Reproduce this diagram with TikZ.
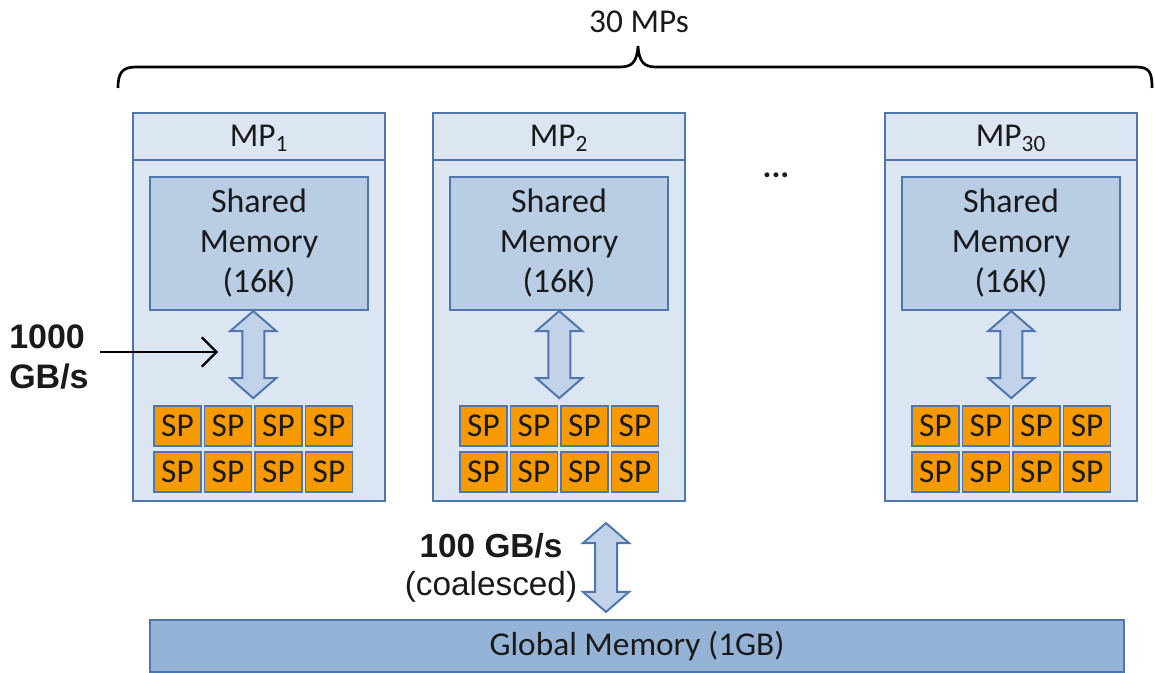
\documentclass[tikz,border=0pt]{standalone}
\usepackage{fontspec}
\setmainfont{Carlito}
\newfontfamily\arialf{Liberation Sans}
\usetikzlibrary{calc,arrows.meta}
\definecolor{bordc}{HTML}{4F76AE}
\definecolor{mpfill}{HTML}{DCE6F2}
\definecolor{shmfill}{HTML}{B9CDE5}
\definecolor{arrfill}{HTML}{C2D3E9}
\definecolor{spfill}{HTML}{F79A00}
\definecolor{gmfill}{HTML}{95B3D7}
\definecolor{txt}{HTML}{1A1A1A}
\tikzset{
  mpbox/.style={draw=bordc, fill=mpfill, line width=1.6pt, minimum width=189pt, minimum height=291pt, inner sep=0pt},
  hdr/.style={font=\fontsize{25}{30}\selectfont, text=txt},
  shmbox/.style={draw=bordc, fill=shmfill, line width=1.6pt, minimum width=163.5pt, minimum height=99.75pt, inner sep=0pt, align=center, font=\fontsize{25.5}{30}\selectfont, text=txt},
  spbox/.style={draw=bordc, fill=spfill, line width=1.3pt, minimum width=35.25pt, minimum height=30pt, inner sep=0pt, font=\fontsize{25}{30}\selectfont, text=txt},
  gmbox/.style={draw=bordc, fill=gmfill, line width=1.6pt, minimum width=730.5pt, minimum height=39pt, inner sep=0pt, font=\fontsize{25}{30}\selectfont, text=txt},
  fatarrow/.style={draw=bordc, fill=arrfill, line width=1.5pt, line join=miter},
  bwlabel/.style={font=\arialf\bfseries\fontsize{25.5}{29.5}\selectfont, text=txt, align=left, inner sep=0pt},
  thinarrow/.style={draw=black, line width=1.6pt, -{Straight Barb[length=11pt, width=22pt, line width=1.6pt]}},
  bracestyle/.style={draw=black, line width=2pt}
}
\newcommand\FatArrow[2]{%
  \path[fatarrow] let \p1=(#1), \p2=(#2) in
    (\x1,\y1) -- ++(23,20) -- ++(-12,0) -- ([shift={(11,-20)}]\x1,\y2) -- ++(12,0)
    -- (\x1,\y2) -- ++(-23,-20) -- ++(12,0) -- ([shift={(-11,20)}]\x1,\y1) -- ++(-12,0) -- cycle;}
\begin{document}
\begin{tikzpicture}[x=0.75pt, y=-0.75pt]
\useasboundingbox (0,0) rectangle (1155,673);
% brace and title
\node[hdr] (title) at (639,22) {30 MPs};
\draw[bracestyle] (118,88) .. controls (118,73) and (122,67) .. (136,67) -- (620,67)
  .. controls (632,67) and (637,62) .. (638,46) .. controls (639,62) and (644,67) .. (656,67)
  -- (1136,67) .. controls (1150,67) and (1152,73) .. (1152,88);
% MPs
\foreach \i/\L/\lab/\spl in {1/133/1/154, 2/433/2/460, 3/885/30/912}{
  \node[mpbox] (mp\i) at (\L+126,307) {};
  \draw[draw=bordc, line width=1.6pt] (\L,160) -- (\L+252,160);
  \node[hdr] (lab\i) at (\L+126,138) {MP\textsubscript{\lab}};
  \node[shmbox] (shm\i) at (\L+126,243.5) {Shared\\Memory\\(16K)};
  \foreach \c in {0,1,2,3}{
    \node[spbox] (sp\i a\c) at (\spl+23.5+50.5*\c,426) {SP};
    \node[spbox] (sp\i b\c) at (\spl+23.5+50.5*\c,472) {SP};
  }
  \coordinate (at\i) at ($(sp\i a1.north east)!0.5!(sp\i a2.north west)$);
  \FatArrow{at\i |- shm\i.south}{$(at\i)+(0,-7)$}
}
\node[font=\bfseries\fontsize{25}{30}\selectfont, text=txt] (dots) at (776,175) {...};
% bandwidth label
\node[bwlabel, anchor=west] (bw) at (9,357) {1000\\GB/s};
\coordinate (bwend) at (218,352);
\draw[thinarrow] (100,352) -- (bwend);
% global memory
\node[gmbox] (gm) at (637,646) {Global Memory (1GB)};
\coordinate (gt) at ($(mp2.south)+(47,21)$);
\coordinate (gb) at ($(gt |- gm.north)+(0,-7)$);
\FatArrow{gt}{gb}
\node[font=\arialf\fontsize{25}{29}\selectfont, text=txt, align=center, inner sep=0pt] (gbw) at (491,568) {{\bfseries 100 GB/s}\\(coalesced)};
\end{tikzpicture}
\end{document}
